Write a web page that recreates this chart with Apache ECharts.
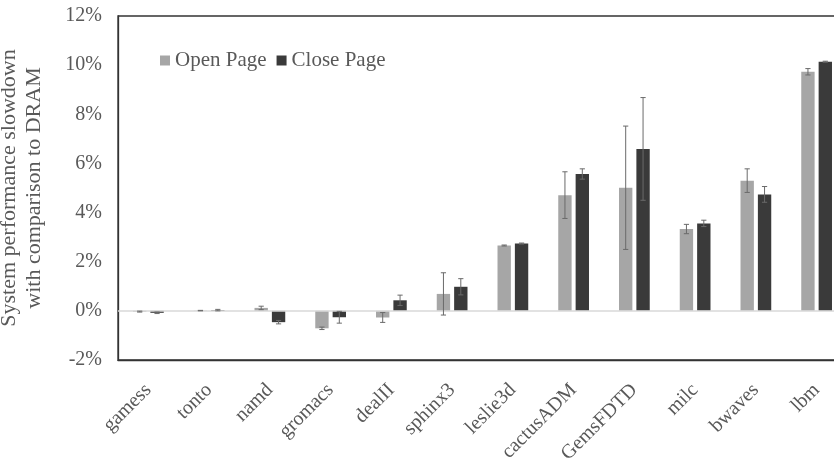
<!DOCTYPE html>
<html>
<head>
<meta charset="utf-8">
<script src="https://cdn.jsdelivr.net/npm/echarts@6/dist/echarts.min.js"></script>
<style>
  html, body { margin: 0; padding: 0; background: #fff; }
  #chart { width: 834px; height: 462px; }
</style>
</head>
<body>
<div id="chart"></div>
<script>
// Benchmarks (SPEC CPU2006) along the x axis
const categories = ['gamess', 'tonto', 'namd', 'gromacs', 'dealII', 'sphinx3',
  'leslie3d', 'cactusADM', 'GemsFDTD', 'milc', 'bwaves', 'lbm'];

// Slowdown in percent, with +/- error
const openPage  = [-0.03, 0.01, 0.12, -0.71, -0.27, 0.69, 2.66, 4.71, 5.01, 3.33, 5.30, 9.73];
const openErr   = [0.02, 0.01, 0.07, 0.05, 0.20, 0.86, 0.02, 0.95, 2.51, 0.19, 0.48, 0.13];
const closePage = [-0.08, 0.03, -0.46, -0.26, 0.43, 0.98, 2.74, 5.57, 6.59, 3.56, 4.74, 10.14];
const closeErr  = [0.03, 0.03, 0.07, 0.24, 0.21, 0.33, 0.02, 0.21, 2.09, 0.13, 0.32, 0.02];

const yTicks = { min: -2, max: 12, interval: 2 };

const FONT = 'Liberation Serif';
const TEXT = '#595959';
const BAR_W = 0.22;   // bar width as fraction of category band
const BAR_GAP = 0.30; // gap between the two bars as fraction of bar width

function errData(values, errs, slot) {
  return values.map((v, i) => [i, v, errs[i], slot]);
}

function renderErr(params, api) {
  const idx = api.value(0);
  const v = api.value(1);
  const e = api.value(2);
  const slot = api.value(3);
  const band = api.size([1, 0])[0];
  const bw = band * BAR_W;
  const off = (bw * (1 + BAR_GAP)) / 2 * (slot === 0 ? -1 : 1);
  const top = api.coord([idx, v + e]);
  const bot = api.coord([idx, v - e]);
  const x = top[0] + off;
  const cap = 2.6;
  const style = { stroke: '#6a6a6a', lineWidth: 1 };
  return {
    type: 'group',
    children: [
      { type: 'line', shape: { x1: x, y1: top[1], x2: x, y2: bot[1] }, style },
      { type: 'line', shape: { x1: x - cap, y1: top[1], x2: x + cap, y2: top[1] }, style },
      { type: 'line', shape: { x1: x - cap, y1: bot[1], x2: x + cap, y2: bot[1] }, style }
    ]
  };
}

const chart = echarts.init(document.getElementById('chart'), null, { renderer: 'canvas' });

chart.setOption({
  animation: false,
  textStyle: { fontFamily: FONT },
  grid: {
    left: 118, top: 16, right: -13, bottom: 102,
    show: true, borderColor: '#333', borderWidth: 1.3,
    containLabel: false, outerBoundsMode: 'none'
  },
  legend: {
    left: 155, top: 45,
    itemWidth: 10, itemHeight: 10, itemGap: 10,
    icon: 'rect',
    textStyle: { fontFamily: FONT, fontSize: 21, color: TEXT },
    data: ['Open Page', 'Close Page']
  },
  xAxis: {
    type: 'category',
    data: categories,
    axisLine: { show: true, onZero: false, lineStyle: { color: '#333', width: 1.3 } },
    axisTick: { show: false },
    axisLabel: {
      interval: 0, rotate: 45, margin: 27,
      fontFamily: FONT, fontSize: 20, color: TEXT
    }
  },
  yAxis: {
    type: 'value',
    min: yTicks.min, max: yTicks.max, interval: yTicks.interval,
    name: 'System performance slowdown\nwith comparison to DRAM',
    nameLocation: 'middle',
    nameRotate: 90,
    nameGap: 71,
    nameTextStyle: { fontFamily: FONT, fontSize: 22, color: TEXT, lineHeight: 25 },
    axisLine: { show: true, lineStyle: { color: '#333', width: 1.3 } },
    axisTick: { show: false },
    splitLine: { show: false },
    axisLabel: {
      margin: 16, fontFamily: FONT, fontSize: 20, color: TEXT,
      formatter: '{value}%'
    }
  },
  series: [
    {
      name: 'Open Page',
      type: 'bar',
      data: openPage,
      barWidth: (BAR_W * 100) + '%',
      barGap: (BAR_GAP * 100) + '%',
      itemStyle: { color: '#a6a6a6' },
      markLine: {
        silent: true, symbol: 'none', label: { show: false },
        lineStyle: { color: '#d9d9d9', type: 'solid', width: 1.5 },
        data: [{ yAxis: 0 }]
      }
    },
    {
      name: 'Close Page',
      type: 'bar',
      data: closePage,
      barWidth: (BAR_W * 100) + '%',
      barGap: (BAR_GAP * 100) + '%',
      itemStyle: { color: '#3a3a3a' }
    },
    {
      type: 'custom',
      renderItem: renderErr,
      data: errData(openPage, openErr, 0),
      encode: { x: 0, y: 1 },
      z: 5, silent: true
    },
    {
      type: 'custom',
      renderItem: renderErr,
      data: errData(closePage, closeErr, 1),
      encode: { x: 0, y: 1 },
      z: 5, silent: true
    }
  ]
});
</script>
</body>
</html>
